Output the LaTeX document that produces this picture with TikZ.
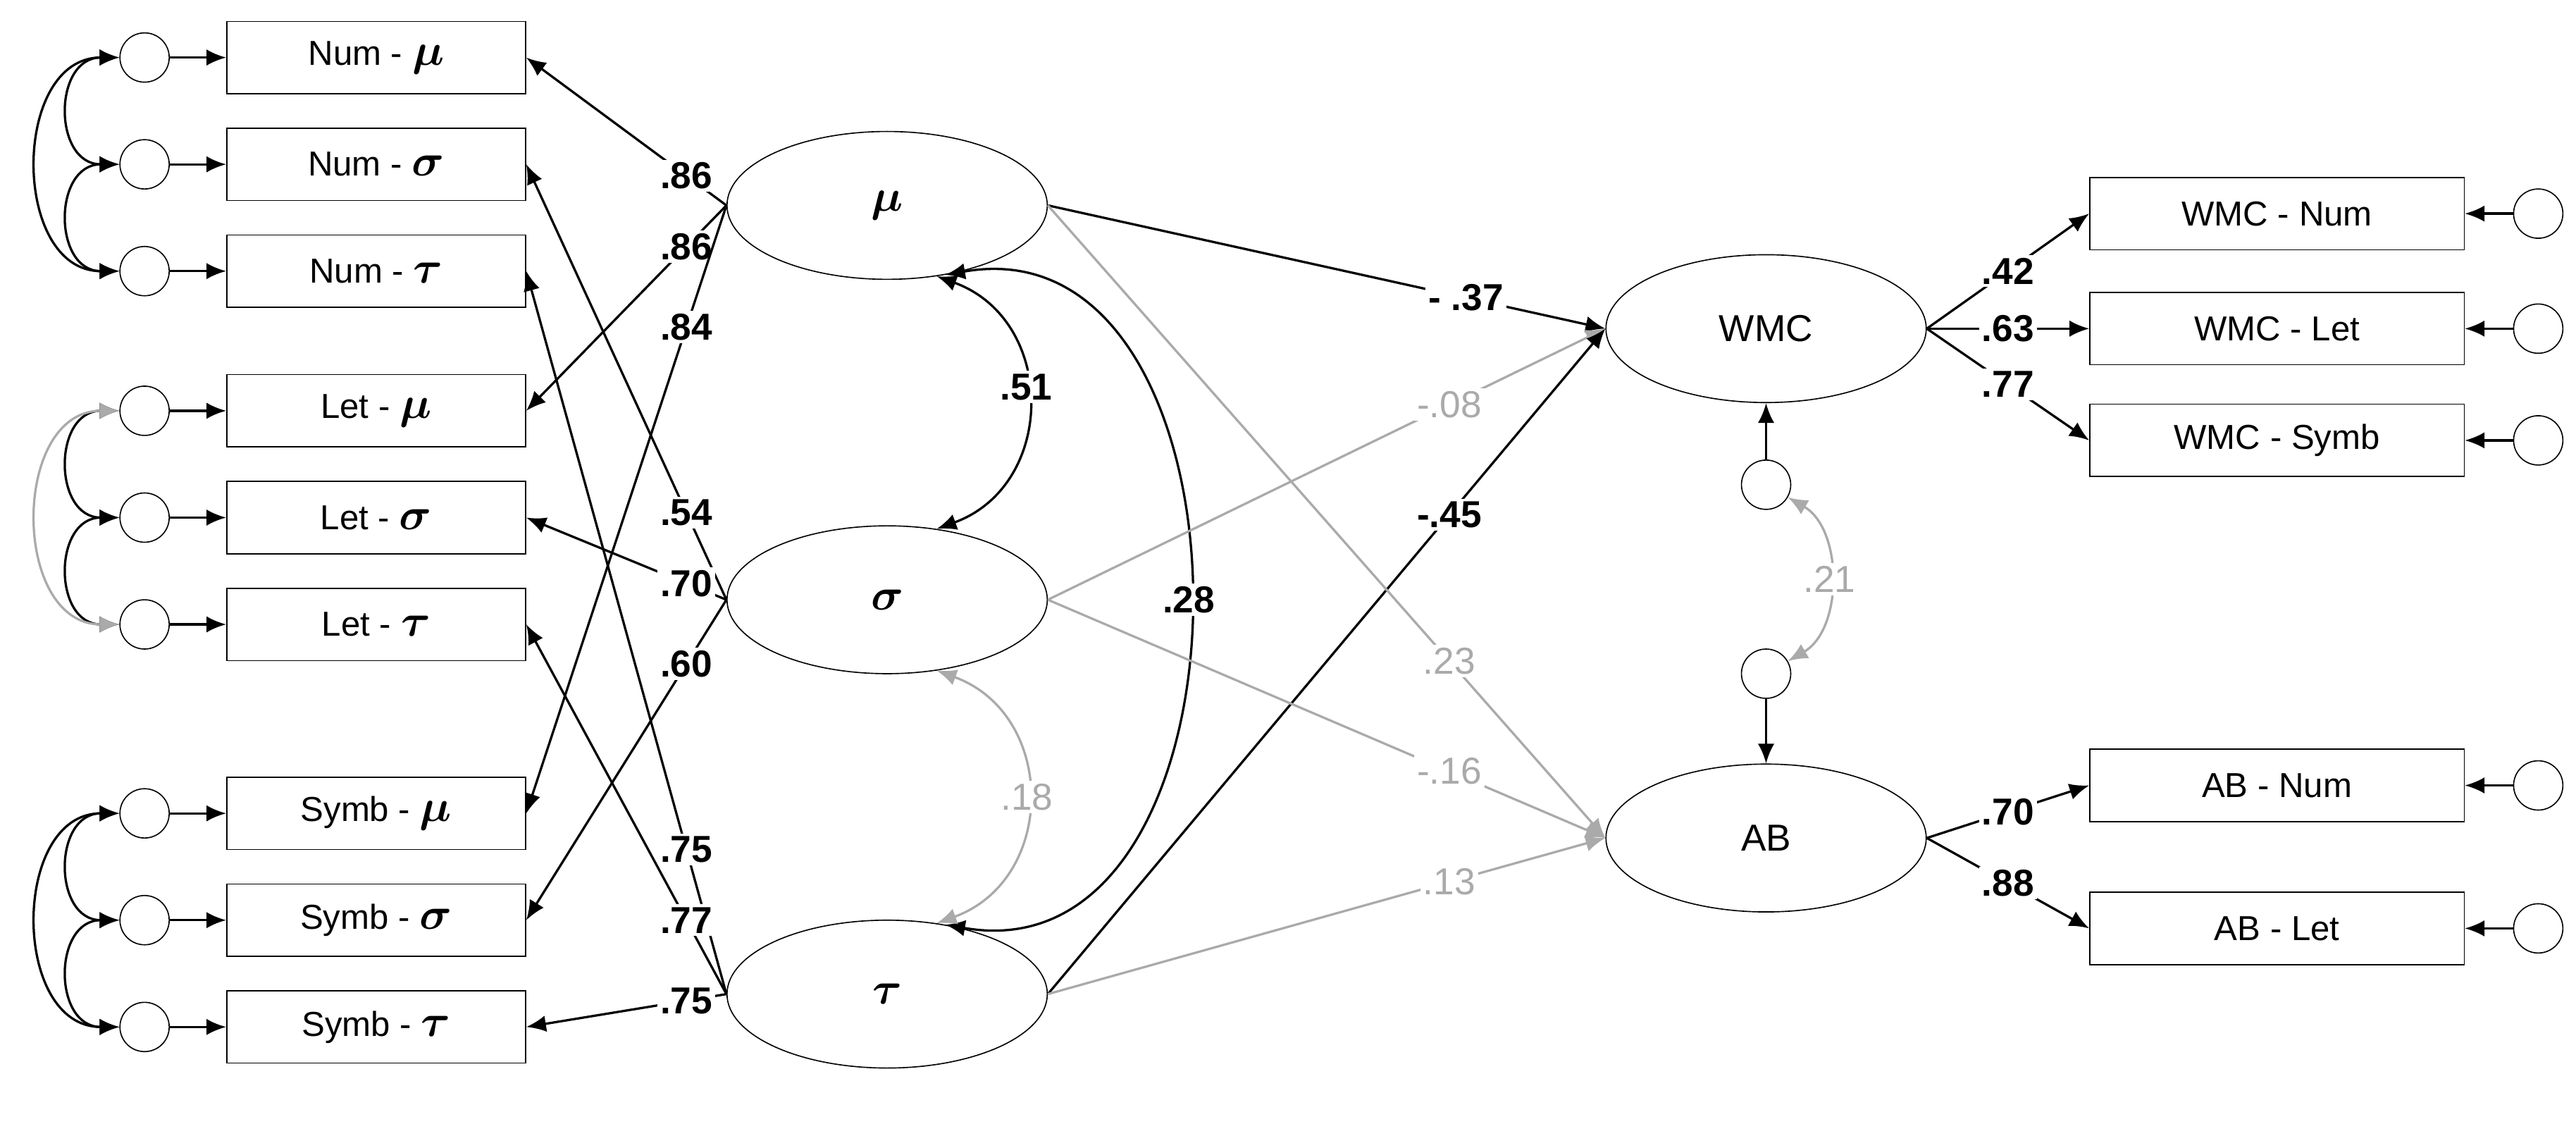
\documentclass[tikz,border=0pt]{standalone}
\usepackage{fontspec}
\setmainfont{Liberation Sans}
\usepackage{amsmath,bm}
\usetikzlibrary{shapes.geometric, arrows.meta}
\definecolor{pathgray}{RGB}{170,170,170}
\tikzset{
  obs/.style={rectangle, draw=black, minimum width=3.64cm, minimum height=0.88cm, text centered, font=\fontsize{12}{14}\selectfont},
  lat/.style={ellipse, draw=black, minimum width=3.9cm, minimum height=1.8cm, font=\fontsize{13}{15}\selectfont},
  err/.style={circle, draw=black, minimum size=0.6cm, inner sep=0pt},
  arrow/.style={thick,-{Latex[length=2.4mm,width=2mm]}},
  cov/.style={thick,{Latex[length=2.4mm,width=2mm]}-{Latex[length=2.4mm,width=2mm]}},
  coef/.style={fill=white, inner sep=1pt, font=\bfseries\fontsize{13}{15}\selectfont},
  gcoef/.style={coef, text=pathgray, font=\fontsize{13}{15}\selectfont},
}
\newcommand{\gk}[1]{\scalebox{1.3}{$\bm{#1}$}}
\begin{document}
\begin{tikzpicture}[x=0.02cm,y=-0.02cm]
\useasboundingbox (0,0) rectangle (1568,684);
% observed indicators, left
\foreach \n/\g/\y in {num-mu/\mu/35, num-sigma/\sigma/100, num-tau/\tau/165}
  {\node (\n) [obs] at (229,\y) {Num - \gk{\g}};}
\foreach \n/\g/\y in {let-mu/\mu/250, let-sigma/\sigma/315, let-tau/\tau/380}
  {\node (\n) [obs] at (229,\y) {Let - \gk{\g}};}
\foreach \n/\g/\y in {symb-mu/\mu/495, symb-sigma/\sigma/560, symb-tau/\tau/625}
  {\node (\n) [obs] at (229,\y) {Symb - \gk{\g}};}
\foreach \n/\y in {num-mu/35, num-sigma/100, num-tau/165, let-mu/250, let-sigma/315, let-tau/380, symb-mu/495, symb-sigma/560, symb-tau/625}
  {\node (e-\n) [err] at (88,\y) {};
   \draw [arrow] (e-\n) -- (\n);}
% residual covariances
\tikzset{short/.style={out=180,in=180,looseness=1.6}, long/.style={out=180,in=180,looseness=1.3}}
\draw [cov] (e-num-mu.west) to[short] (e-num-sigma.west);
\draw [cov] (e-num-sigma.west) to[short] (e-num-tau.west);
\draw [cov] (e-num-mu.west) to[long] (e-num-tau.west);
\draw [cov] (e-let-mu.west) to[short] (e-let-sigma.west);
\draw [cov] (e-let-sigma.west) to[short] (e-let-tau.west);
\draw [cov, pathgray] (e-let-mu.west) to[long] (e-let-tau.west);
\draw [cov] (e-symb-mu.west) to[short] (e-symb-sigma.west);
\draw [cov] (e-symb-sigma.west) to[short] (e-symb-tau.west);
\draw [cov] (e-symb-mu.west) to[long] (e-symb-tau.west);
% latent factors
\node (mu) [lat] at (540,125) {\gk{\mu}};
\node (sigma) [lat] at (540,365) {\gk{\sigma}};
\node (tau) [lat] at (540,605) {\gk{\tau}};
\node (wmc) [lat] at (1075,200) {WMC};
\node (ab) [lat] at (1075,510) {AB};
% loadings
\draw [arrow] (mu.west) -- node[coef,pos=0.2] {.86} (num-mu.east);
\draw [arrow] (mu.west) -- node[coef,pos=0.2] {.86} (let-mu.east);
\draw [arrow] (mu.west) -- node[coef,pos=0.2] {.84} (symb-mu.east);
\draw [arrow] (sigma.west) -- node[coef,pos=0.2] {.54} (num-sigma.east);
\draw [arrow] (sigma.west) -- node[coef,pos=0.2] {.70} (let-sigma.east);
\draw [arrow] (sigma.west) -- node[coef,pos=0.2] {.60} (symb-sigma.east);
\draw [arrow] (tau.west) -- node[coef,pos=0.2] {.75} (num-tau.east);
\draw [arrow] (tau.west) -- node[coef,pos=0.2] {.77} (let-tau.east);
\draw [arrow] (tau.west) -- node[coef,pos=0.2] {.75} (symb-tau.east);
% factor covariances
\draw [cov] (mu.-55) to[out=-20,in=20,looseness=1.3] node[coef,pos=0.45] {.51} (sigma.55);
\draw [cov] (mu.-50) to[out=10,in=-10,looseness=1.3] node[coef,pos=0.5] {.28} (tau.50);
\draw [cov, pathgray] (sigma.-55) to[out=-20,in=20,looseness=1.3] node[gcoef] {.18} (tau.55);
% structural paths
\draw [arrow] (mu.east) -- node[coef,pos=0.75] {- .37} (wmc.west);
\draw [arrow, pathgray] (sigma.east) -- node[gcoef,pos=0.72] {-.08} (wmc.west);
\draw [arrow] (tau.east) -- node[coef,pos=0.72] {-.45} (wmc.west);
\draw [arrow, pathgray] (mu.east) -- node[gcoef,pos=0.72] {.23} (ab.west);
\draw [arrow, pathgray] (sigma.east) -- node[gcoef,pos=0.72] {-.16} (ab.west);
\draw [arrow, pathgray] (tau.east) -- node[gcoef,pos=0.72] {.13} (ab.west);
% outcome indicators
\node (wmc-num) [obs, minimum width=4.56cm] at (1386,130) {WMC - Num};
\node (wmc-let) [obs, minimum width=4.56cm] at (1386,200) {WMC - Let};
\node (wmc-symb) [obs, minimum width=4.56cm] at (1386,268) {WMC - Symb};
\node (ab-num) [obs, minimum width=4.56cm] at (1386,478) {AB - Num};
\node (ab-let) [obs, minimum width=4.56cm] at (1386,565) {AB - Let};
\draw [arrow] (wmc.east) -- node[coef,pos=0.5] {.42} (wmc-num.west);
\draw [arrow] (wmc.east) -- node[coef,pos=0.5] {.63} (wmc-let.west);
\draw [arrow] (wmc.east) -- node[coef,pos=0.5] {.77} (wmc-symb.west);
\draw [arrow] (ab.east) -- node[coef,pos=0.5] {.70} (ab-num.west);
\draw [arrow] (ab.east) -- node[coef,pos=0.5] {.88} (ab-let.west);
\foreach \n/\y in {wmc-num/130, wmc-let/200, wmc-symb/268, ab-num/478, ab-let/565}
  {\node (e-\n) [err] at (1545,\y) {};
   \draw [arrow] (e-\n) -- (\n);}
% disturbances
\node (d-wmc) [err] at (1075,295) {};
\node (d-ab) [err] at (1075,410) {};
\draw [arrow] (d-wmc) -- (wmc);
\draw [arrow] (d-ab) -- (ab);
\draw [cov, pathgray] (d-wmc) to[bend left=60] node[gcoef] {.21} (d-ab);
\end{tikzpicture}
\end{document}
